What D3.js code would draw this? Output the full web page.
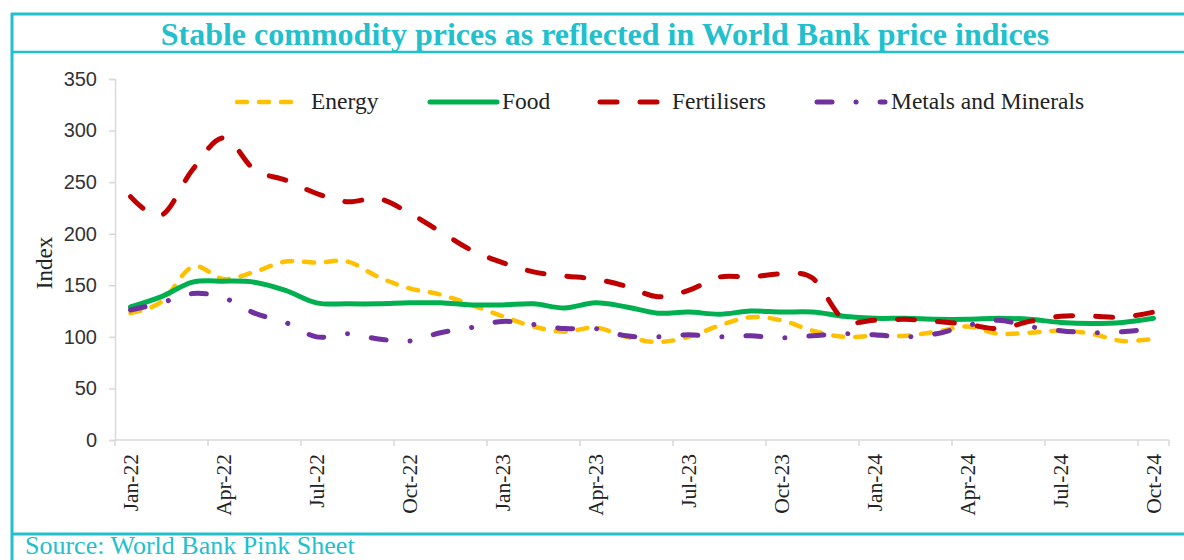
<!DOCTYPE html>
<html>
<head>
<meta charset="utf-8">
<script src="https://cdn.jsdelivr.net/npm/d3@7"></script>
<style>
  html, body { margin: 0; padding: 0; background: #ffffff; }
  svg { display: block; }
</style>
</head>
<body>
<svg id="chart" width="1184" height="560"></svg>
<script>
// ---- Data ----
const months = [
  "Jan-22","Feb-22","Mar-22","Apr-22","May-22","Jun-22","Jul-22","Aug-22","Sep-22","Oct-22","Nov-22","Dec-22",
  "Jan-23","Feb-23","Mar-23","Apr-23","May-23","Jun-23","Jul-23","Aug-23","Sep-23","Oct-23","Nov-23","Dec-23",
  "Jan-24","Feb-24","Mar-24","Apr-24","May-24","Jun-24","Jul-24","Aug-24","Sep-24","Oct-24"
];
const tickLabels = ["Jan-22","Apr-22","Jul-22","Oct-22","Jan-23","Apr-23","Jul-23","Oct-23","Jan-24","Apr-24","Jul-24","Oct-24"];
const yTicks = [0, 50, 100, 150, 200, 250, 300, 350];

const energy = [123,134,168,156,163,173,172,173,158,147,141,131,
                120,110,105,109,100,95,100,111,119,116,106,100,
                101,101,105,110,103,104,106,103,96,98];
const food = [129,139,153,154,153,145,133,132,132,133,133,131,
              131,132,128,133,129,123,124,122,125,124,124,120,
              118,118,117,117,118,117,114,113,114,118];
const fertilisers = [236,218,262,293,262,252,239,231,234,220,202,184,
                     172,163,159,156,149,139,145,158,158,161,157,117,
                     116,117,115,112,108,115,120,120,119,124];
const metals = [126,133,142,138,123,114,100,103,98,96,104,109,
                115,112,108,108,101,100,102,100,101,99,101,103,
                102,100,103,111,116,110,106,104,105,108];

const seriesNames = ["Energy", "Food", "Fertilisers", "Metals and Minerals"];
const seriesValues = [energy, food, fertilisers, metals];

// ---- Styles ----
const styles = {
  "Energy":              { color: "#FFC000", width: 4.5, dash: "10,12" },
  "Food":                { color: "#00B050", width: 5,   dash: null },
  "Fertilisers":         { color: "#C00000", width: 5,   dash: "17,23" },
  "Metals and Minerals": { color: "#7030A0", width: 5,   dash: "15,24,0.1,24" }
};
const teal = "#22BFCC";
const serif = "'Liberation Serif', 'Times New Roman', serif";

const svg = d3.select("#chart");

// Frame
svg.append("line").attr("x1", 11).attr("x2", 1184).attr("y1", 14).attr("y2", 14)
  .attr("stroke", teal).attr("stroke-width", 3);
svg.append("line").attr("x1", 11).attr("x2", 1184).attr("y1", 52).attr("y2", 52)
  .attr("stroke", teal).attr("stroke-width", 2.5);
svg.append("line").attr("x1", 11).attr("x2", 1184).attr("y1", 534).attr("y2", 534)
  .attr("stroke", teal).attr("stroke-width", 3);
svg.append("line").attr("x1", 12).attr("x2", 12).attr("y1", 13).attr("y2", 560)
  .attr("stroke", teal).attr("stroke-width", 3);

// Title
svg.append("text")
  .attr("x", 605).attr("y", 45)
  .attr("text-anchor", "middle")
  .attr("font-family", serif)
  .attr("font-weight", "bold")
  .attr("font-size", 32)
  .attr("fill", teal)
  .text("Stable commodity prices as reflected in World Bank price indices");

// Source
svg.append("text")
  .attr("x", 25).attr("y", 554)
  .attr("font-family", serif)
  .attr("font-size", 26)
  .attr("fill", teal)
  .text("Source: World Bank Pink Sheet");

// Scales
const x = d3.scaleBand().domain(months).range([115, 1169]).paddingInner(0).paddingOuter(0);
const y = d3.scaleLinear().domain([0, 350]).range([440, 79]);
const cx = d => x(d) + x.bandwidth() / 2;

// Y axis
const yAxis = svg.append("g").attr("transform", "translate(115,0)")
  .call(d3.axisLeft(y).tickValues(yTicks).tickSize(6).tickPadding(12).tickFormat(d3.format("d")));
yAxis.select(".domain").attr("stroke", "#d9d9d9").attr("stroke-width", 1.5);
yAxis.selectAll(".tick line").attr("stroke", "#d9d9d9").attr("stroke-width", 1.5);
yAxis.selectAll(".tick text")
  .attr("font-family", "'Liberation Sans', Arial, sans-serif")
  .attr("font-size", 20).attr("fill", "#333");

// X axis line and ticks (between categories, every 3)
const xg = svg.append("g");
xg.append("line").attr("x1", 115).attr("x2", 1169).attr("y1", 440).attr("y2", 440)
  .attr("stroke", "#d9d9d9").attr("stroke-width", 1.5);
const tickBounds = months.filter((m, i) => i % 3 === 0).map(m => x(m)).concat([x.range()[1]]);
xg.selectAll("line.xt").data(tickBounds).enter().append("line")
  .attr("class", "xt")
  .attr("x1", d => d).attr("x2", d => d)
  .attr("y1", 440).attr("y2", 446)
  .attr("stroke", "#d9d9d9").attr("stroke-width", 1.5);
xg.selectAll("text.xl").data(tickLabels).enter().append("text")
  .attr("class", "xl")
  .attr("transform", d => `translate(${cx(d) + 7},454) rotate(-90)`)
  .attr("text-anchor", "end")
  .attr("font-family", serif)
  .attr("font-size", 21.5).attr("fill", "#222")
  .text(d => d);

// Y axis title
svg.append("text")
  .attr("transform", "translate(52,263) rotate(-90)")
  .attr("text-anchor", "middle")
  .attr("font-family", serif)
  .attr("font-size", 23).attr("fill", "#222")
  .text("Index");

// Lines
const line = d3.line()
  .x((d, i) => cx(months[i]))
  .y(d => y(d))
  .curve(d3.curveCardinal.tension(0));

seriesNames.forEach((name, k) => {
  const s = styles[name];
  svg.append("path")
    .datum(seriesValues[k])
    .attr("d", line)
    .attr("fill", "none")
    .attr("stroke", s.color)
    .attr("stroke-width", s.width)
    .attr("stroke-linecap", "round")
    .attr("stroke-linejoin", "round")
    .attr("stroke-dasharray", s.dash);
});

// Legend
const legendItems = [
  { name: "Energy", x0: 237, x1: 300, tx: 311 },
  { name: "Food", x0: 430, x1: 497, tx: 502 },
  { name: "Fertilisers", x0: 600, x1: 662, tx: 672 },
  { name: "Metals and Minerals", x0: 817, x1: 885, tx: 891 }
];
const lg = svg.append("g");
legendItems.forEach(it => {
  const s = styles[it.name];
  lg.append("line")
    .attr("x1", it.x0).attr("x2", it.x1).attr("y1", 102).attr("y2", 102)
    .attr("stroke", s.color).attr("stroke-width", s.width)
    .attr("stroke-linecap", "round")
    .attr("stroke-dasharray", s.dash);
  lg.append("text")
    .attr("x", it.tx).attr("y", 109)
    .attr("font-family", serif)
    .attr("font-size", 23.5).attr("fill", "#222")
    .text(it.name);
});
</script>
</body>
</html>
